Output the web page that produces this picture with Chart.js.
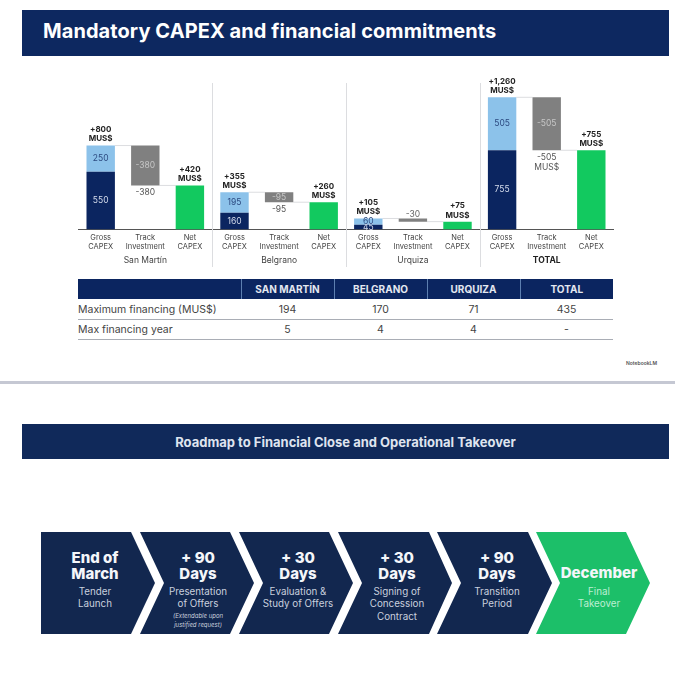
<!DOCTYPE html>
<html>
<head>
<meta charset="utf-8">
<title>Mandatory CAPEX and financial commitments</title>
<script src="https://cdn.jsdelivr.net/npm/chart.js@4"></script>
<style>
  html, body { margin: 0; padding: 0; background: #fff; }
  body { width: 675px; height: 674px; position: relative; overflow: hidden; font-family: Inter, sans-serif; color: #333; }
  .banner { position: absolute; background: #0d2860; color: #fff; font-weight: 700; box-sizing: border-box; }
  #title1 { left: 22px; top: 10px; width: 647px; height: 46px; line-height: 43px; padding-left: 21px; font-size: 20px; letter-spacing: 0.08px; }
  #title2 { left: 22px; top: 424px; width: 647px; height: 35px; line-height: 36px; text-align: center; font-size: 13px; color: #dfe4ef; background: #10295a; }
  #chartBox { position: absolute; left: 0; top: 70px; width: 675px; height: 200px; }
  #finance { position: absolute; left: 78px; top: 279px; border-collapse: collapse; table-layout: fixed; width: 535px; font-size: 10.5px; }
  #finance th { background: #0b2560; color: #e4e8f0; height: 20px; padding: 0; font-size: 10px; font-weight: 700; border-left: 1px solid #5d7fb0; box-sizing: border-box; }
  #finance th:first-child { border-left: 0; }
  #finance td { height: 20px; padding: 1px 0 0; text-align: center; border-bottom: 1px solid #a9adb5; color: #444; box-sizing: border-box; }
  #finance td:first-child { text-align: left; }
  #mark { position: absolute; left: 626px; top: 360px; font-size: 5px; color: #555; font-weight: 600; }
  #rule { position: absolute; left: 0; top: 381px; width: 675px; height: 3px; background: #c5c8d3; }
  #road { position: absolute; left: 0; top: 520px; }
</style>
</head>
<body>
<div class="banner" id="title1">Mandatory CAPEX and financial commitments</div>
<div id="chartBox"><canvas id="myChart"></canvas></div>
<table id="finance"></table>
<div id="mark">NotebookLM</div>
<div id="rule"></div>
<div class="banner" id="title2">Roadmap to Financial Close and Operational Takeover</div>
<svg id="road" width="675" height="125"></svg>

<script>
'use strict';

// chart values, MUS$
const projects = ['San Martín', 'Belgrano', 'Urquiza', 'TOTAL'];
const stepNames = [['Gross', 'CAPEX'], ['Track', 'Investment'], ['Net', 'CAPEX']];
const grossLower = [550, 160, 45, 755];
const grossUpper = [250, 195, 60, 505];
const trackInvestment = [-380, -95, -30, -505];
const netCapex = [420, 260, 75, 755];
const grossLabels = ['+800', '+355', '+105', '+1,260'];
const netLabels = ['+420', '+260', '+75', '+755'];

// table
const tableHead = ['', 'SAN MARTÍN', 'BELGRANO', 'URQUIZA', 'TOTAL'];
const maxFinancing = ['Maximum financing (MUS$)', '194', '170', '71', '435'];
const maxFinancingYear = ['Max financing year', '5', '4', '4', '-'];

// roadmap
const roadTitles = [['End of', 'March'], ['+ 90', 'Days'], ['+ 30', 'Days'], ['+ 30', 'Days'], ['+ 90', 'Days'], ['December']];
const roadTexts = [['Tender', 'Launch'], ['Presentation', 'of Offers'], ['Evaluation &', 'Study of Offers'], ['Signing of', 'Concession', 'Contract'], ['Transition', 'Period'], ['Final', 'Takeover']];
const roadNote = ['(Extendable upon', 'justified request)'];

let labels = [];
let lowerData = [];
let upperData = [];
let trackData = [];
let netData = [];
for (let i = 0; i < projects.length; i++) {
  let top = grossLower[i] + grossUpper[i];
  labels.push(stepNames[0], stepNames[1], stepNames[2]);
  lowerData.push([0, grossLower[i]], null, null);
  upperData.push([grossLower[i], top], null, null);
  trackData.push(null, [top + trackInvestment[i], top], null);
  netData.push(null, null, [0, netCapex[i]]);
}

function drawText(ctx, text, x, y, font, color) {
  ctx.font = font;
  ctx.fillStyle = color;
  ctx.textAlign = 'center';
  ctx.textBaseline = 'middle';
  ctx.fillText(text, x, y);
}

// separators, connectors, value labels and project names
const slidePlugin = {
  id: 'slidePlugin',
  beforeDatasetsDraw(chart) {
    const ctx = chart.ctx;
    const yScale = chart.scales.y;
    const step = chart.scales.x.getPixelForValue(1) - chart.scales.x.getPixelForValue(0);
    ctx.save();
    ctx.strokeStyle = '#dcdde0';
    ctx.lineWidth = 1;
    for (let i = 0; i < projects.length; i++) {
      let grossX = chart.scales.x.getPixelForValue(i * 3);
      let half = chart.getDatasetMeta(0).data[i * 3].width / 2;
      let top = grossLower[i] + grossUpper[i];
      ctx.beginPath();
      ctx.moveTo(grossX + half, yScale.getPixelForValue(top));
      ctx.lineTo(grossX + step - half, yScale.getPixelForValue(top));
      ctx.moveTo(grossX + step + half, yScale.getPixelForValue(netCapex[i]));
      ctx.lineTo(grossX + step * 2 - half, yScale.getPixelForValue(netCapex[i]));
      if (i < projects.length - 1) {
        let sepX = Math.round(grossX + step * 2.5) + 0.5;
        ctx.moveTo(sepX, 13);
        ctx.lineTo(sepX, 197);
      }
      ctx.stroke();
    }
    ctx.restore();
  },
  afterDatasetsDraw(chart) {
    const ctx = chart.ctx;
    const xScale = chart.scales.x;
    const yScale = chart.scales.y;
    const bold = '700 8px Inter';
    const plain = '400 8.5px Inter';
    const axisY = yScale.getPixelForValue(0);
    for (let i = 0; i < projects.length; i++) {
      let grossX = xScale.getPixelForValue(i * 3);
      let trackX = xScale.getPixelForValue(i * 3 + 1);
      let netX = xScale.getPixelForValue(i * 3 + 2);
      let top = grossLower[i] + grossUpper[i];
      let topY = yScale.getPixelForValue(top);
      let netY = yScale.getPixelForValue(netCapex[i]);

      drawText(ctx, grossLabels[i], grossX, topY - 16, bold, '#222');
      drawText(ctx, 'MUS$', grossX, topY - 6.5, bold, '#222');
      drawText(ctx, netLabels[i], netX, netY - 16, bold, '#222');
      drawText(ctx, 'MUS$', netX, netY - 6.5, bold, '#222');

      drawText(ctx, String(grossLower[i]), grossX, (axisY + yScale.getPixelForValue(grossLower[i])) / 2, plain, '#d5dcec');
      drawText(ctx, String(grossUpper[i]), grossX, (topY + yScale.getPixelForValue(grossLower[i])) / 2, plain, '#2c4a80');

      let trackText = String(trackInvestment[i]);
      if (i === 2) {
        drawText(ctx, trackText, trackX, topY - 4, plain, '#666');
      } else {
        drawText(ctx, trackText, trackX, (topY + netY) / 2, plain, '#c6c6c6');
        drawText(ctx, trackText, trackX, netY + 7.5, plain, '#555');
      }
      if (i === 3) {
        drawText(ctx, 'MUS$', trackX, netY + 17, plain, '#555');
      }

      let nameFont = i === 3 ? '700 8.5px Inter' : '400 8.5px Inter';
      drawText(ctx, projects[i], trackX, 190, nameFont, i === 3 ? '#222' : '#444');
    }
  }
};

const data = {
  labels: labels,
  datasets: [
    { label: 'Gross CAPEX lower', data: lowerData, backgroundColor: '#0b2560' },
    { label: 'Gross CAPEX upper', data: upperData, backgroundColor: '#8cc2ea' },
    { label: 'Track Investment', data: trackData, backgroundColor: '#808080' },
    { label: 'Net CAPEX', data: netData, backgroundColor: '#12c95f' }
  ]
};

const config = {
  type: 'bar',
  data: data,
  plugins: [slidePlugin],
  options: {
    responsive: true,
    maintainAspectRatio: false,
    animation: false,
    grouped: false,
    barPercentage: 1,
    categoryPercentage: 0.637,
    layout: { padding: { left: 78.4, right: 61.4, top: 0, bottom: 0 } },
    plugins: { legend: { display: false }, tooltip: { enabled: false } },
    scales: {
      x: {
        grid: { display: false, drawTicks: false },
        border: { color: '#555' },
        ticks: { autoSkip: false, maxRotation: 0, color: '#444', font: { family: 'Inter', size: 7.5 }, padding: 4 },
        afterFit(scale) { scale.height = 40.5; }
      },
      y: { display: false, min: 0, max: 1520 }
    }
  }
};

let canvasChart = document.getElementById('myChart');
const myChart = new Chart(canvasChart, config);

function renderTable() {
  let table = document.getElementById('finance');
  let headRow = document.createElement('tr');
  tableHead.forEach(function (text, i) {
    let th = document.createElement('th');
    th.textContent = text;
    th.style.width = i === 0 ? '163px' : '93px';
    headRow.appendChild(th);
  });
  table.appendChild(headRow);
  [maxFinancing, maxFinancingYear].forEach(function (row) {
    let tr = document.createElement('tr');
    row.forEach(function (text) {
      let td = document.createElement('td');
      td.textContent = text;
      tr.appendChild(td);
    });
    table.appendChild(tr);
  });
}

function addSvg(parent, tag, attrs, text) {
  let el = document.createElementNS('http://www.w3.org/2000/svg', tag);
  for (let key in attrs) {
    el.setAttribute(key, attrs[key]);
  }
  if (text) {
    el.textContent = text;
  }
  parent.appendChild(el);
}

function renderRoad() {
  const road = document.getElementById('road');
  // left edge, notch, shoulder, tip, text centre
  const shapes = [
    [41, 41, 131, 155, 95],
    [140, 164, 230, 254, 198],
    [239, 263, 329, 353, 298],
    [338, 362, 429, 452, 397],
    [437, 461, 528, 552, 497],
    [536, 560, 626, 650, 599]
  ];
  const topY = 12;
  const bottomY = 114;
  const midY = 63;
  shapes.forEach(function (s, i) {
    let isLast = i === shapes.length - 1;
    let points = `${s[0]},${topY} ${s[2]},${topY} ${s[3]},${midY} ${s[2]},${bottomY} ${s[0]},${bottomY} ${s[1]},${midY}`;
    addSvg(road, 'polygon', { points: points, fill: isLast ? '#1cbf69' : '#12274f' });

    let titleLines = roadTitles[i];
    let titleStart = titleLines.length === 1 ? 54 : 38.5;
    titleLines.forEach(function (line, n) {
      addSvg(road, 'text', { x: s[4], y: titleStart + n * 16, 'text-anchor': 'middle', 'dominant-baseline': 'middle', 'font-family': 'Inter', 'font-weight': 800, 'font-size': 15, fill: '#f4f6fa' }, line);
    });
    roadTexts[i].forEach(function (line, n) {
      addSvg(road, 'text', { x: s[4], y: 72.5 + n * 12.3, 'text-anchor': 'middle', 'dominant-baseline': 'middle', 'font-family': 'Inter', 'font-size': 9.8, fill: isLast ? '#bdeed3' : '#c9d0de' }, line);
    });
  });
  roadNote.forEach(function (line, n) {
    addSvg(road, 'text', { x: 198, y: 96.5 + n * 8.5, 'text-anchor': 'middle', 'dominant-baseline': 'middle', 'font-family': 'Inter', 'font-style': 'italic', 'font-size': 6, fill: '#c9d0de' }, line);
  });
}

renderTable();
renderRoad();
</script>
</body>
</html>
